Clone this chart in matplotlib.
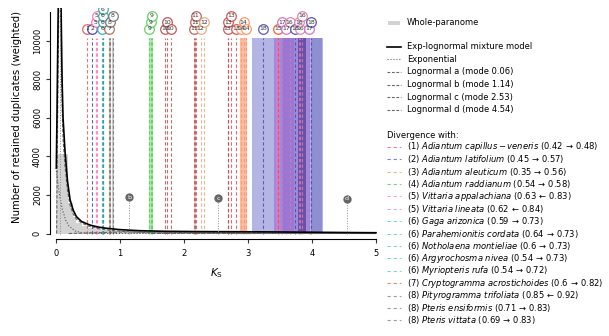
import matplotlib
matplotlib.use('Agg')
import matplotlib.pyplot as plt
from matplotlib.lines import Line2D
from matplotlib.patches import Rectangle

# ---------------- data ----------------
hist_edges = [0.0, 0.05, 0.10, 0.15, 0.18, 0.26, 0.32, 0.40, 0.50, 0.60, 0.70, 0.80,
              0.90, 1.00, 1.25, 1.50, 2.00, 2.50, 3.00, 3.50, 4.00, 4.50, 5.00]
hist_counts = [4100, 4100, 4100, 4100, 1560, 870, 550, 380, 280, 220, 180, 160,
               145, 130, 115, 105, 95, 90, 85, 75, 62, 50]

model_x = [0.005, 0.015, 0.025, 0.036, 0.05, 0.065, 0.08, 0.095, 0.11, 0.14, 0.18, 0.22,
           0.27, 0.32, 0.40, 0.53, 0.65, 0.79, 1.0, 1.31, 1.7, 2.2, 2.87, 3.5, 4.0, 4.5, 5.0]
model_y = [3400, 6000, 9000, 12000, 15500, 14500, 11500, 8000, 6000, 4300, 2700, 1750,
           1200, 870, 620, 440, 340, 270, 200, 145, 115, 100, 93, 80, 65, 52, 40]

exp_x = [0.0, 0.03, 0.06, 0.10, 0.15, 0.20, 0.30, 0.40, 0.60, 5.0]
exp_y = [3400, 2600, 1900, 1250, 700, 400, 130, 40, 5, 0]

lna_x = [0.01, 0.02, 0.036, 0.05, 0.065, 0.08, 0.095, 0.11, 0.14, 0.18, 0.22, 0.27,
         0.32, 0.40, 0.53, 0.65, 0.79, 1.0, 1.31, 1.7, 2.2, 3.0]
lna_y = [0, 4000, 9400, 13400, 12700, 9800, 6600, 4900, 3500, 2200, 1450, 1000,
         740, 540, 360, 260, 190, 120, 60, 25, 8, 0]
lnb_x = [0.2, 0.5, 0.8, 1.14, 1.5, 2.0, 2.5, 3.0, 4.0, 5.0]
lnb_y = [0, 25, 60, 80, 72, 50, 30, 17, 5, 2]
lnc_x = [1.5, 2.0, 2.53, 3.0, 3.5, 4.0, 5.0]
lnc_y = [0, 20, 45, 40, 25, 12, 2]
lnd_x = [3.0, 3.5, 4.0, 4.54, 5.0]
lnd_y = [0, 5, 18, 30, 28]

# peak a lies above the visible range: only its drop line shows
peak_a_mode = 0.06
peak_names = ['b', 'c', 'd']
peak_modes = [1.14, 2.53, 4.54]
peak_heights = [1880, 1820, 1790]

div_labels = [1, 2, 5, 5, 6, 6, 6, 6, 7, 8, 8, 9, 9, 9, 10, 10, 10, 11, 11, 11, 12, 12,
              13, 13, 13, 13, 14, 14, 14, 18, 15, 17, 17, 16, 18, 16, 16, 16, 17, 18]
div_ks = [0.49, 0.57, 0.62, 0.64, 0.72, 0.73, 0.73, 0.73, 0.83, 0.84, 0.89, 1.46, 1.48, 1.50,
          1.71, 1.73, 1.79, 2.16, 2.17, 2.18, 2.26, 2.31, 2.68, 2.69, 2.73, 2.81,
          2.89, 2.93, 2.97, 3.24, 3.47, 3.53, 3.60, 3.65, 3.73, 3.80, 3.82, 3.85, 3.95, 3.99]

band_lo = [0.83, 0.88, 1.45, 2.15, 2.87, 3.06, 3.41, 3.44, 3.55, 3.78, 3.98]
band_hi = [0.86, 0.91, 1.51, 2.19, 2.99, 4.17, 3.97, 3.50, 3.72, 3.90, 4.16]

leg_groups = [1, 2, 3, 4, 5, 5, 6, 6, 6, 6, 6, 7, 8, 8, 8]
leg_species = ['Adiantum capillus-veneris', 'Adiantum latifolium', 'Adiantum aleuticum',
               'Adiantum raddianum', 'Vittaria appalachiana', 'Vittaria lineata',
               'Gaga arizonica', 'Parahemionitis cordata', 'Notholaena montieliae',
               'Argyrochosma nivea', 'Myriopteris rufa', 'Cryptogramma acrostichoides',
               'Pityrogramma trifoliata', 'Pteris ensiformis', 'Pteris vittata']
leg_from = [0.42, 0.45, 0.35, 0.54, 0.63, 0.62, 0.59, 0.64, 0.6, 0.54, 0.54, 0.6, 0.85, 0.71, 0.69]
leg_to = [0.48, 0.57, 0.56, 0.58, 0.83, 0.84, 0.73, 0.73, 0.73, 0.73, 0.72, 0.82, 0.92, 0.83, 0.83]
leg_dir = ['r', 'r', 'r', 'r', 'l', 'l', 'r', 'r', 'r', 'r', 'r', 'r', 'l', 'r', 'r']

model_labels = ['Exp-lognormal mixture model', 'Exponential', 'Lognormal a (mode 0.06)',
                'Lognormal b (mode 1.14)', 'Lognormal c (mode 2.53)', 'Lognormal d (mode 4.54)']

# ---------------- styles ----------------
label_colour = {1: '#E05555', 2: '#3838A8', 5: '#FF6FB5', 6: '#2AA5A5', 7: '#A86A48',
                8: '#707070', 9: '#55CC55', 10: '#B84848', 11: '#C05050', 12: '#E0A878',
                13: '#CC4848', 14: '#FF9060', 15: '#FF4A18', 16: '#E07AA8', 17: '#CC66CC',
                18: '#4848AA'}
band_colour = ['#909090', '#909090', '#66DD66', '#D08080', '#FFA07A', '#6A6ACD',
               '#7A3FC8', '#FF70C0', '#8040C0', '#301880', '#4848B0']
band_alpha = [0.45, 0.45, 0.55, 0.35, 0.7, 0.5, 0.35, 0.45, 0.25, 0.5, 0.35]
leg_colour = {1: '#F08080', 2: '#8080E0', 3: '#E8C080', 4: '#80D080', 5: '#F4A6C6',
              6: '#80D4D4', 7: '#D89070', 8: '#A0A0A0'}

W, H = 609, 336
fig = plt.figure(figsize=(6.09, 3.36), dpi=100)


def fx(p):
    return p / W


def fy(p):
    return 1 - p / H


ax = fig.add_axes([fx(49.6), fy(239.3), (382.4 - 49.6) / W, (239.3 - 7.7) / H])
ax.set_xlim(-0.1, 5.1)
ax.set_ylim(-300, 11700)

LINE_TOP = 10150

ax.stairs(hist_counts, hist_edges, fill=True, color='#D3D3D3', lw=0, zorder=1)

for lo, hi, c, a in zip(band_lo, band_hi, band_colour, band_alpha):
    ax.fill_between([lo, hi], 0, LINE_TOP, color=c, alpha=a, lw=0, zorder=2)

for lab, k in zip(div_labels, div_ks):
    ax.vlines(k, 0, LINE_TOP, colors=label_colour[lab], linestyles=(0, (3, 2)),
              lw=0.8, alpha=0.8, zorder=3)

ax.plot(exp_x, exp_y, color='#555555', ls=':', lw=0.8, zorder=4)
for xs, ys in [(lna_x, lna_y), (lnb_x, lnb_y), (lnc_x, lnc_y), (lnd_x, lnd_y)]:
    ax.plot(xs, ys, color='#666666', ls=(0, (3, 1.5)), lw=0.8, zorder=4)
ax.plot(model_x, model_y, color='black', lw=1.2, zorder=5)

ax.vlines(peak_a_mode, 0, 11700, colors='#888888', linestyles=':', lw=0.7, zorder=6)
for n, m, h in zip(peak_names, peak_modes, peak_heights):
    ax.vlines(m, 0, h, colors='#888888', linestyles=':', lw=0.7, zorder=6)
    ax.scatter([m], [h], s=36, color='#666666', zorder=7, lw=0)
    ax.text(m, h, n, fontsize=4.5, color='white', ha='center', va='center',
            zorder=8, clip_on=True)

# stacked number labels
rows_y = [10622, 10959, 11295, 11632]
last = [None] * len(rows_y)
order = sorted(range(len(div_ks)), key=lambda i: div_ks[i])
for i in order:
    k = div_ks[i]
    r = len(rows_y) - 1
    for rr in range(len(rows_y)):
        if last[rr] is None or k - last[rr] >= 0.075:
            r = rr
            break
    last[r] = k
    col = label_colour[div_labels[i]]
    ax.scatter([k], [rows_y[r]], s=48, facecolor='white', edgecolor=col, lw=0.9,
               alpha=0.9, zorder=9)
    ax.text(k, rows_y[r], str(div_labels[i]), fontsize=4.4, color='#333333',
            ha='center', va='center', zorder=10, clip_on=True)

# axes styling
for s in ['top', 'right']:
    ax.spines[s].set_visible(False)
ax.spines['left'].set_bounds(0, 11500)
ax.spines['bottom'].set_bounds(0, 5)
for s in ['left', 'bottom']:
    ax.spines[s].set_linewidth(0.8)
ax.set_xticks(range(0, 6))
ax.set_yticks(range(0, 10001, 2000))
ax.tick_params(axis='both', labelsize=6, length=3, width=0.8, color='#333333')
ax.tick_params(axis='x', pad=4)
ax.tick_params(axis='y', pad=2.5, labelrotation=90)
for lbl in ax.get_yticklabels():
    lbl.set_va('center')

fig.text(fx(17), fy(117), 'Number of retained duplicates (weighted)', rotation=90,
         ha='center', va='center', fontsize=7.3)
fig.text(fx(216), fy(273), r'$K_\mathrm{S}$', ha='center', va='center', fontsize=7.5)

# ---------------- legends ----------------
fig.add_artist(Rectangle((fx(387.7), fy(24.7)), (400 - 387.7) / W, 4 / H,
                         color='#D3D3D3', transform=fig.transFigure, lw=0))
fig.text(fx(406.7), fy(22.7), 'Whole-paranome', fontsize=6, va='center')

model_styles = [dict(color='black', lw=1.2, ls='-'),
                dict(color='#666666', lw=0.8, ls=':'),
                dict(color='#666666', lw=0.8, ls=(0, (2.5, 1.5))),
                dict(color='#666666', lw=0.8, ls=(0, (2.5, 1.5))),
                dict(color='#666666', lw=0.8, ls=(0, (2.5, 1.5))),
                dict(color='#666666', lw=0.8, ls=(0, (2.5, 1.5)))]
for j, (txt, st) in enumerate(zip(model_labels, model_styles)):
    y = 46.7 + 12.65 * j
    fig.add_artist(Line2D([fx(387), fx(401)], [fy(y), fy(y)], transform=fig.transFigure, **st))
    fig.text(fx(406.7), fy(y), txt, fontsize=6, va='center')

fig.text(fx(387), fy(135), 'Divergence with:', fontsize=6, va='center')
for j, (g, sp, a, b, d) in enumerate(zip(leg_groups, leg_species, leg_from, leg_to, leg_dir)):
    y = 146.7 + 12.4 * j
    fig.add_artist(Line2D([fx(387), fx(401)], [fy(y), fy(y)], transform=fig.transFigure,
                          color=leg_colour[g], lw=0.8, ls=(0, (3, 2.5))))
    arrow = r'\rightarrow' if d == 'r' else r'\leftarrow'
    name = sp.replace(' ', r'\ ')
    txt = f'({g}) $\\mathit{{{name}}}$ ({a:g}$\\,{arrow}\\,${b:g})'
    fig.text(fx(406.7), fy(y), txt, fontsize=6, va='center')

fig.savefig('out.png', dpi=100)
